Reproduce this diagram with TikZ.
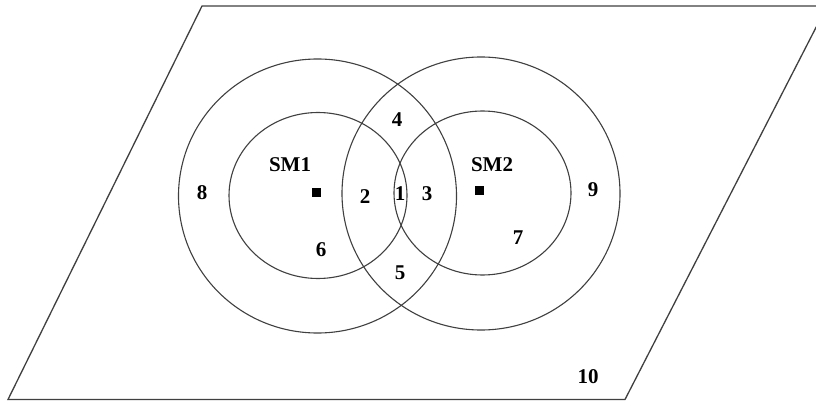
\documentclass[tikz,border=0pt]{standalone}
\usepackage{fontspec}
\setmainfont{Liberation Serif}
\begin{document}
\begin{tikzpicture}[x=1pt,y=-1pt,
  edge/.style={draw=black!75, line width=1.3pt},
  ring/.style={draw=black!75, line width=1.1pt},
  lbl/.style={font=\fontsize{21}{24}\selectfont\bfseries, inner sep=0pt},
  station/.style={fill=black, minimum size=9pt, inner sep=0pt, draw=none}]
  \useasboundingbox (0,0) rectangle (816,401);
  \clip (0,0) rectangle (816,401);
  \fill[white] (0,0) rectangle (816,401);

  % ground plane
  \draw[edge] (202,6) -- (827,6) -- (625,399.5) -- (8,399.5) -- cycle;

  % coverage rings around the two stations
  \draw[ring] (317.5,196) ellipse [x radius=139, y radius=137];
  \draw[ring] (318,195.5) ellipse [x radius=89, y radius=83];
  \draw[ring] (481,193.5) ellipse [x radius=139, y radius=136.5];
  \draw[ring] (482.5,193) ellipse [x radius=88.5, y radius=82];

  % stations
  \node[station] (s1) at (316,192) {};
  \node[station] (s2) at (479,190) {};
  \node[lbl] (sm1) at (290,165) {SM1};
  \node[lbl] (sm2) at (492,165) {SM2};

  % region numbers
  \node[lbl] (r1) at (400,194) {1};
  \node[lbl] (r2) at (365,197) {2};
  \node[lbl] (r3) at (427,194) {3};
  \node[lbl] (r4) at (397,120) {4};
  \node[lbl] (r5) at (400,273) {5};
  \node[lbl] (r6) at (321,250) {6};
  \node[lbl] (r7) at (518,238) {7};
  \node[lbl] (r8) at (202,193) {8};
  \node[lbl] (r9) at (593,190) {9};
  \node[lbl] (r10) at (588,377) {10};
\end{tikzpicture}
\end{document}
